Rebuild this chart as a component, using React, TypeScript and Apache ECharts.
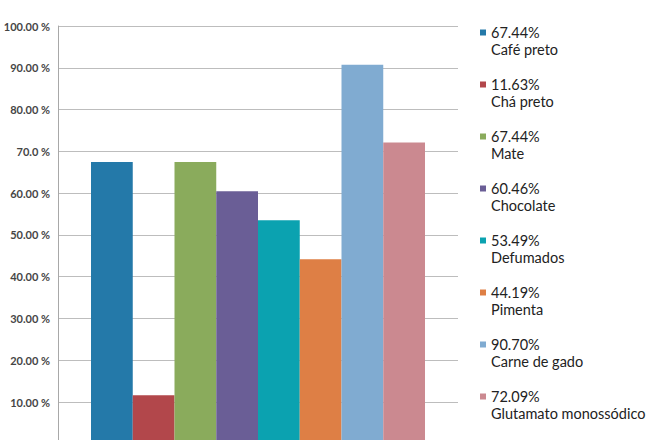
import React, { useEffect, useRef } from "react";
import * as echarts from "echarts";

// Food items and the share of respondents citing each one
const categories = [
  "Café preto",
  "Chá preto",
  "Mate",
  "Chocolate",
  "Defumados",
  "Pimenta",
  "Carne de gado",
  "Glutamato monossódico",
];
const values = [67.44, 11.63, 67.44, 60.46, 53.49, 44.19, 90.7, 72.09];
const colors = [
  "#2479a9",
  "#b2474b",
  "#8aab5c",
  "#6a5e96",
  "#0ba2b0",
  "#de7f45",
  "#80abd1",
  "#cb8990",
];
const tickLabels = [
  "0.00 %",
  "10.00 %",
  "20.00 %",
  "30.00 %",
  "40.00 %",
  "50.00 %",
  "60.00 %",
  "70.0 %",
  "80.00 %",
  "90.00 %",
  "100.00 %",
];

export default function App() {
  const ref = useRef<HTMLDivElement>(null);

  useEffect(() => {
    if (!ref.current) return;
    const chart = echarts.init(ref.current, undefined, { renderer: "svg" });

    const valueByName: Record<string, number> = {};
    categories.forEach((c, i) => (valueByName[c] = values[i]));

    chart.setOption({
      animation: false,
      textStyle: { fontFamily: "Lato" },
      grid: {
        left: 58,
        top: 26,
        width: 400,
        height: 417.8,
        containLabel: false,
        outerBoundsMode: "none",
      },
      xAxis: {
        type: "category",
        data: [""],
        axisLine: { show: false },
        axisTick: { show: false },
        axisLabel: { show: false },
      },
      yAxis: {
        type: "value",
        min: 0,
        max: 100,
        interval: 10,
        axisLine: { show: true, lineStyle: { color: "#a8a8a8", width: 1 } },
        axisTick: { show: false },
        splitLine: { lineStyle: { color: "#bdbdbd", width: 1 } },
        axisLabel: {
          margin: 8,
          fontSize: 11,
          fontWeight: "bold",
          color: "#454545",
          fontFamily: "Lato",
          showMinLabel: false,
          formatter: (v: number) => tickLabels[Math.round(v / 10)] ?? "",
        },
      },
      legend: {
        orient: "vertical",
        left: 480,
        top: 7,
        padding: 0,
        itemGap: 1,
        itemWidth: 6,
        itemHeight: 6,
        icon: "rect",
        selectedMode: false,
        data: categories,
        // leading blank line keeps the value line level with the colour key
        formatter: (name: string) =>
          "\n" + valueByName[name].toFixed(2) + "%\n" + name,
        textStyle: {
          fontFamily: "Lato",
          fontSize: 14.5,
          lineHeight: 17,
          color: "#222222",
        },
      },
      series: categories.map((name, i) => ({
        name,
        type: "bar",
        data: [values[i]],
        barGap: "0%",
        barCategoryGap: "16.5%",
        itemStyle: { color: colors[i] },
      })),
    });

    return () => chart.dispose();
  }, []);

  return (
    <div
      ref={ref}
      style={{ width: 651, height: 440, position: "absolute", left: 0, top: 0 }}
    />
  );
}
